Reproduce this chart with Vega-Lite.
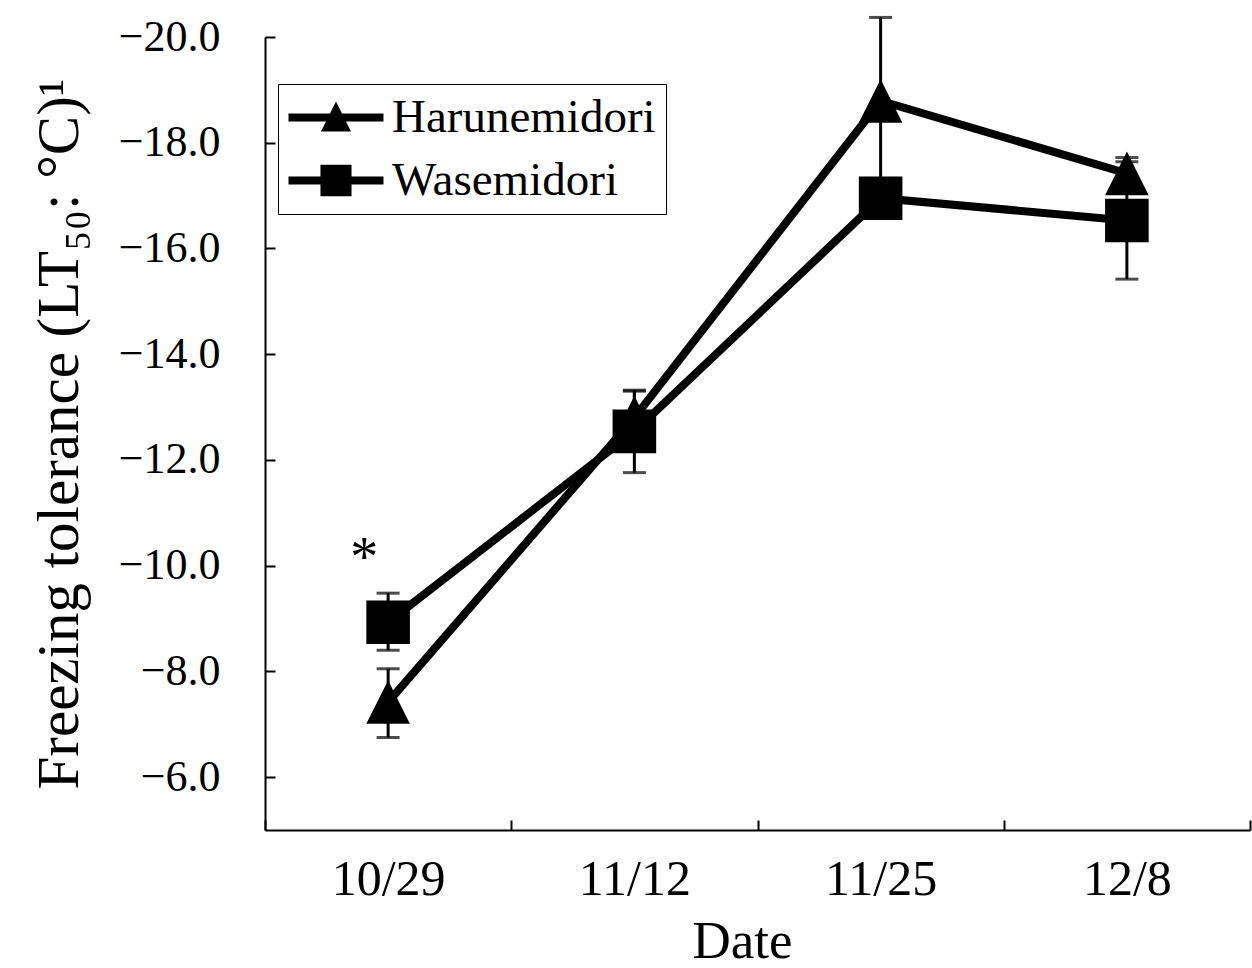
{
  "$schema": "https://vega.github.io/schema/vega-lite/v6.json",
  "width": 985,
  "height": 793,
  "autosize": {"type": "none"},
  "padding": {"left": 265, "top": 37, "right": 2, "bottom": 138},
  "background": "white",
  "config": {
    "view": {"stroke": null},
    "font": "Liberation Serif",
    "axis": {
      "grid": false,
      "domainColor": "black",
      "domainWidth": 2,
      "tickColor": "black",
      "tickWidth": 2,
      "labelColor": "black",
      "titleColor": "black",
      "labelFont": "Liberation Serif",
      "titleFont": "Liberation Serif",
      "titleFontWeight": "normal"
    }
  },
  "data": {
    "values": [
      {"date": "10/29", "variety": "Harunemidori", "lt50": -7.42, "lo": -8.05, "hi": -6.75},
      {"date": "11/12", "variety": "Harunemidori", "lt50": -12.8, "lo": -13.3, "hi": -12.3},
      {"date": "11/25", "variety": "Harunemidori", "lt50": -18.79, "lo": -20.37, "hi": -17.21},
      {"date": "12/8", "variety": "Harunemidori", "lt50": -17.42, "lo": -17.72, "hi": -17.12},
      {"date": "10/29", "variety": "Wasemidori", "lt50": -8.93, "lo": -9.48, "hi": -8.4},
      {"date": "11/12", "variety": "Wasemidori", "lt50": -12.54, "lo": -13.32, "hi": -11.76},
      {"date": "11/25", "variety": "Wasemidori", "lt50": -16.95, "lo": -17.3, "hi": -16.6},
      {"date": "12/8", "variety": "Wasemidori", "lt50": -16.53, "lo": -17.64, "hi": -15.42}
    ]
  },
  "encoding": {
    "x": {
      "field": "date",
      "type": "ordinal",
      "sort": ["10/29", "11/12", "11/25", "12/8"],
      "scale": {"type": "band", "paddingInner": 0, "paddingOuter": 0},
      "axis": {
        "title": "Date",
        "labelAngle": 0,
        "labelFontSize": 50,
        "tickSize": -10,
        "labelPadding": 34,
        "tickBand": "extent",
        "titleFontSize": 53,
        "titlePadding": 11,
        "titleX": 477
      }
    }
  },
  "layer": [
    {
      "mark": {"type": "rule", "color": "black", "strokeWidth": 3},
      "encoding": {
        "y": {"field": "lo", "type": "quantitative", "scale": {"domain": [-20, -5], "reverse": true, "nice": false, "zero": false},
          "axis": {"title": "Freezing tolerance (LT₅₀: °C)¹", "values": [-20, -18, -16, -14, -12, -10, -8, -6], "format": ".1f", "labelFontSize": 44, "tickSize": -10, "labelPadding": 55, "titleFontSize": 59, "titlePadding": 29}},
        "y2": {"field": "hi"},
        "detail": {"field": "variety"}
      }
    },
    {
      "mark": {"type": "tick", "color": "black", "size": 23, "thickness": 3},
      "encoding": {
        "y": {"field": "lo", "type": "quantitative", "scale": {"domain": [-20, -5], "reverse": true, "nice": false, "zero": false},
          "axis": {"title": "Freezing tolerance (LT₅₀: °C)¹", "values": [-20, -18, -16, -14, -12, -10, -8, -6], "format": ".1f", "labelFontSize": 44, "tickSize": -10, "labelPadding": 55, "titleFontSize": 59, "titlePadding": 29}}
      }
    },
    {
      "mark": {"type": "tick", "color": "black", "size": 23, "thickness": 3},
      "encoding": {
        "y": {"field": "hi", "type": "quantitative", "scale": {"domain": [-20, -5], "reverse": true, "nice": false, "zero": false},
          "axis": {"title": "Freezing tolerance (LT₅₀: °C)¹", "values": [-20, -18, -16, -14, -12, -10, -8, -6], "format": ".1f", "labelFontSize": 44, "tickSize": -10, "labelPadding": 55, "titleFontSize": 59, "titlePadding": 29}}
      }
    },
    {
      "mark": {"type": "line", "color": "black", "strokeWidth": 8},
      "encoding": {
        "y": {"field": "lt50", "type": "quantitative", "scale": {"domain": [-20, -5], "reverse": true, "nice": false, "zero": false},
          "axis": {"title": "Freezing tolerance (LT₅₀: °C)¹", "values": [-20, -18, -16, -14, -12, -10, -8, -6], "format": ".1f", "labelFontSize": 44, "tickSize": -10, "labelPadding": 55, "titleFontSize": 59, "titlePadding": 29}},
        "detail": {"field": "variety"}
      }
    },
    {
      "mark": {"type": "point", "filled": true, "color": "black", "opacity": 1, "size": 1900, "strokeWidth": 0},
      "encoding": {
        "y": {"field": "lt50", "type": "quantitative", "scale": {"domain": [-20, -5], "reverse": true, "nice": false, "zero": false},
          "axis": {"title": "Freezing tolerance (LT₅₀: °C)¹", "values": [-20, -18, -16, -14, -12, -10, -8, -6], "format": ".1f", "labelFontSize": 44, "tickSize": -10, "labelPadding": 55, "titleFontSize": 59, "titlePadding": 29}},
        "shape": {"field": "variety", "type": "nominal", "scale": {"domain": ["Harunemidori", "Wasemidori"], "range": ["M0,-1L1,1L-1,1Z", "square"]}, "legend": null}
      }
    },
    {
      "transform": [{"filter": "false"}],
      "mark": {"type": "point", "filled": true, "color": "black", "opacity": 1, "strokeWidth": 0},
      "encoding": {
        "y": {"field": "lt50", "type": "quantitative", "scale": {"domain": [-20, -5], "reverse": true, "nice": false, "zero": false},
          "axis": {"title": "Freezing tolerance (LT₅₀: °C)¹", "values": [-20, -18, -16, -14, -12, -10, -8, -6], "format": ".1f", "labelFontSize": 44, "tickSize": -10, "labelPadding": 55, "titleFontSize": 59, "titlePadding": 29}},
        "shape": {
          "field": "variety",
          "type": "nominal",
          "scale": {"domain": ["Harunemidori", "Wasemidori"], "range": ["M-1,-0.17H3.13V0.17H-1Z M1.065,-0.7L1.717,0.61L0.413,0.61Z", "M-1,-0.17H3.13V0.17H-1Z M0.39,-0.68H1.74V0.68H0.39Z"]},
          "legend": {
            "title": null,
            "orient": "none",
            "legendX": 13,
            "legendY": 47,
            "padding": 10,
            "strokeColor": "black",
            "fillColor": "white",
            "symbolSize": 2116,
            "symbolFillColor": "black",
            "symbolStrokeWidth": 0,
            "symbolOpacity": 1,
            "labelFont": "Liberation Serif",
            "labelFontSize": 47,
            "labelColor": "black",
            "labelOffset": 57,
            "rowPadding": 15,
            "labelLimit": 0
          }
        }
      }
    },
    {
      "data": {"values": [{"date": "10/29", "pos": -9.8, "note": "*"}]},
      "mark": {"type": "text", "color": "black", "fontSize": 56, "font": "Liberation Serif", "baseline": "alphabetic", "align": "center", "dx": -24},
      "encoding": {
        "y": {"field": "pos", "type": "quantitative", "scale": {"domain": [-20, -5], "reverse": true, "nice": false, "zero": false},
          "axis": {"title": "Freezing tolerance (LT₅₀: °C)¹", "values": [-20, -18, -16, -14, -12, -10, -8, -6], "format": ".1f", "labelFontSize": 44, "tickSize": -10, "labelPadding": 55, "titleFontSize": 59, "titlePadding": 29}},
        "text": {"field": "note"}
      }
    }
  ],
  "resolve": {"scale": {"shape": "independent"}, "legend": {"shape": "independent"}}
}
